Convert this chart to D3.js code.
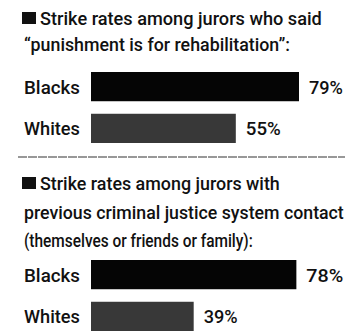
<!DOCTYPE html>
<html lang="en">
<head>
<meta charset="UTF-8">
<title>Strike rates</title>
<script src="https://d3js.org/d3.v7.min.js"></script>
<style>
  body { margin: 0; background: #fff; }
  text { font-family: "Liberation Sans Narrow", "Arial Narrow", "Roboto", sans-serif; fill: #111; font-weight: 500; font-size: 19px; }
</style>
</head>
<body>
<div id="chart"></div>
<script>
// data
var groups = ["Blacks", "Whites"];
var rehabValues = [79, 55];
var contactValues = [78, 39];
var rehabTitle = ["Strike rates among jurors who said", "\u201Cpunishment is for rehabilitation\u201D:"];
var contactTitle = ["Strike rates among jurors with", "previous criminal justice system contact", "(themselves or friends or family):"];

var width = 352, height = 331;

var svg = d3.select("#chart").append("svg")
    .attr("width", width)
    .attr("height", height);

var x = d3.scaleLinear().domain([0, 79]).range([91, 299]);
var color = d3.scaleOrdinal().domain(groups).range(["#050505", "#383838"]);

// widths, to pin the narrow face
var titleWidths = [[282, 266], [240, 320, 229]];
var valueWidths = [[34, 35], [37, 34]];

// squeeze a text horizontally to a given width
function narrowText(g, str, tx, ty, w) {
    var t = g.append("text").text(str);
    var nat = t.node().getComputedTextLength();
    t.attr("transform", "translate(" + tx + "," + ty + ") scale(" + (w / nat) + ",1)");
    return t;
}

function panel(title, values, titleTop, barTop, lineGap, idx) {
    var g = svg.append("g");

    g.append("rect")
        .attr("x", 22).attr("y", titleTop - 13)
        .attr("width", 14).attr("height", 12)
        .attr("fill", "#111");

    title.forEach(function(t, i) {
        narrowText(g, t, i == 0 ? 40 : 24, titleTop + i * lineGap, titleWidths[idx][i]);
    });

    var y = d3.scaleBand().domain(groups).range([barTop, barTop + 71]).paddingInner(0.3);

    g.selectAll("rect.bar").data(values).enter()
        .append("rect")
        .attr("class", "bar")
        .attr("x", x(0))
        .attr("y", function(d, i) { return y(groups[i]); })
        .attr("width", function(d) { return x(d) - x(0); })
        .attr("height", y.bandwidth())
        .attr("fill", function(d, i) { return color(groups[i]); });

    groups.forEach(function(d) {
        narrowText(g, d, 24, y(d) + y.bandwidth() / 2 + 7, 56);
    });

    values.forEach(function(d, i) {
        narrowText(g, d + "%", x(d) + 10, y(groups[i]) + y.bandwidth() / 2 + 7, valueWidths[idx][i]);
    });
}

panel(rehabTitle, rehabValues, 25, 72, 26, 0);

svg.append("line")
    .attr("x1", 18).attr("x2", 345)
    .attr("y1", 157).attr("y2", 157)
    .attr("stroke", "#333")
    .attr("stroke-width", 1.2)
    .attr("stroke-dasharray", "9,1");

panel(contactTitle, contactValues, 190, 260, 28.5, 1);
</script>
</body>
</html>
